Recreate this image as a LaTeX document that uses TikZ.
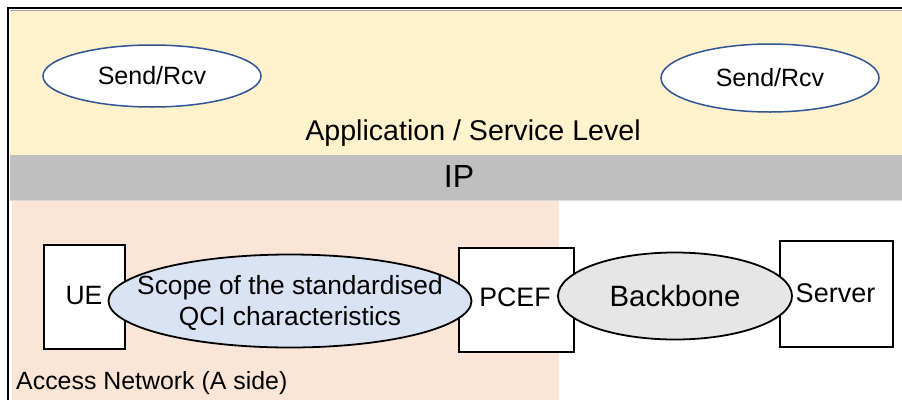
\documentclass[tikz,border=0pt]{standalone}
\usepackage{fontspec}
\setmainfont{Liberation Sans}
\usetikzlibrary{shapes.geometric}
\definecolor{appyellow}{HTML}{FFF2CC}
\definecolor{ipgray}{HTML}{BFBFBF}
\definecolor{accpink}{HTML}{FBE5D6}
\definecolor{scopeblue}{HTML}{DAE3F3}
\definecolor{sendblue}{HTML}{2F5597}
\definecolor{bbgray}{HTML}{E7E6E6}
\newcommand{\fs}[1]{\fontsize{#1}{#1}\selectfont}
\tikzset{
  sendrcv/.style={ellipse, draw=sendblue, line width=1.5pt, fill=white, inner sep=0pt, font=\fs{25}},
  box/.style={rectangle, draw=black, line width=2pt, fill=white, inner sep=0pt, anchor=north west},
  oval/.style={ellipse, draw=black, line width=1.8pt, inner sep=0pt},
  lbl/.style={inner sep=0pt}
}
\begin{document}
\begin{tikzpicture}[x=1pt,y=-1pt]
\useasboundingbox (0,0) rectangle (902,400);
% layers
\fill[appyellow] (10,10) rectangle (902,155);
\fill[ipgray] (10,155) rectangle (902,200);
\draw[black!15, line width=1pt] (10,200.5) -- (902,200.5);
\fill[accpink] (12,201) rectangle (559,400);
\draw[black!35, line width=1pt] (10,10) -- (902,10);
\draw[black, line width=2.2pt] (8,8) -- (902,8);
\draw[black, line width=2.2pt] (8,7) -- (8,400);
% application level
\node[sendrcv, minimum width=218, minimum height=62] (sr1) at (152,76) {Send/Rcv};
\node[sendrcv, minimum width=218, minimum height=68] (sr2) at (770,78) {Send/Rcv};
\node[lbl, font=\fs{28.6}] (app) at (473,133) {Application / Service Level};
\node[lbl, font=\fs{32}] (ip) at (459,176) {IP};
% network level
\node[box, minimum width=81, minimum height=104] (ue) at (43,244) {};
\node[lbl, font=\fs{26.5}] (uet) at (84,296) {UE};
\node[box, minimum width=115, minimum height=104] (pcef) at (458,247) {};
\node[box, minimum width=113, minimum height=106] (server) at (779,240) {};
\node[oval, fill=scopeblue, minimum width=363, minimum height=93] (scope) at (290,301) {};
\node[lbl, align=center, font=\fs{26.3}] (scopet) at (290,303)
  {Scope of the standardised\\[4pt]QCI characteristics};
\node[oval, fill=bbgray, minimum width=234, minimum height=87, font=\fs{29.4}] (bb) at (675,296) {Backbone};
\node[lbl, font=\fs{26.7}] (pceft) at (515,297) {PCEF};
\node[lbl, font=\fs{27}] (servert) at (835.5,293) {Server};
\node[lbl, anchor=west, font=\fs{24.9}] (acc) at (16,383) {Access Network (A side)};
\end{tikzpicture}
\end{document}
